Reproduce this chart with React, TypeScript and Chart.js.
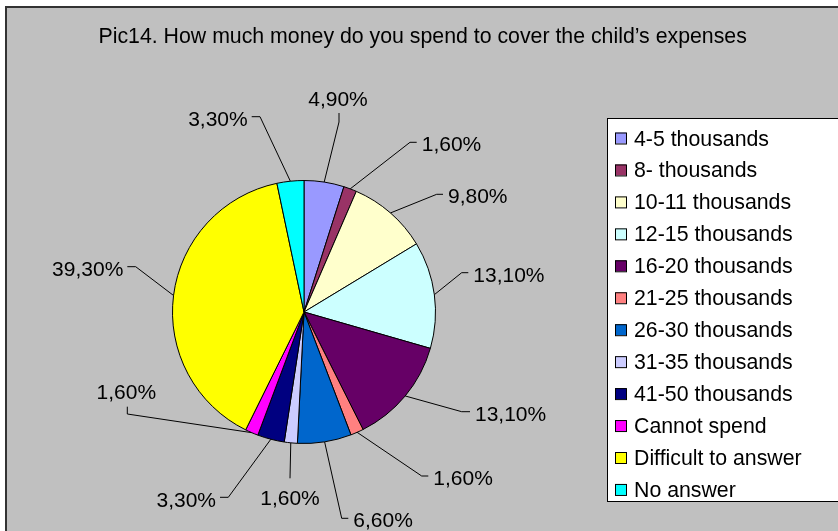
import React, { useEffect, useRef } from "react";
import { Chart, registerables } from "chart.js";

Chart.register(...registerables);

// ---- data ----
const titleText = "Pic14. How much money do you spend to cover the child\u2019s expenses";
const categories = [
  "4-5 thousands",
  "8- thousands",
  "10-11 thousands",
  "12-15 thousands",
  "16-20 thousands",
  "21-25 thousands",
  "26-30 thousands",
  "31-35 thousands",
  "41-50 thousands",
  "Cannot spend",
  "Difficult to answer",
  "No answer",
];
const shares = [4.9, 1.6, 9.8, 13.1, 13.1, 1.6, 6.6, 1.6, 3.3, 1.6, 39.3, 3.3];
const sliceColors = [
  "#9999FF",
  "#993366",
  "#FFFFCC",
  "#CCFFFF",
  "#660066",
  "#FF8080",
  "#0066CC",
  "#CCCCFF",
  "#000080",
  "#FF00FF",
  "#FFFF00",
  "#00FFFF",
];

// ---- label placement hints (elbow offset from pie centre, tail, text side) ----
type Place = { ex: number; ey: number; tx: number; ty: number; mode: "left" | "right" | "above" | "below" };
const labelPlaces: Place[] = [
  { ex: 35, ey: -190, tx: 0, ty: -9, mode: "above" },
  { ex: 106, ey: -169.7, tx: 6.7, ty: 0, mode: "right" },
  { ex: 132.7, ey: -117.7, tx: 6.3, ty: 0, mode: "right" },
  { ex: 157.7, ey: -39.3, tx: 6.6, ty: 0, mode: "right" },
  { ex: 157.7, ey: 99.7, tx: 8.3, ty: 0, mode: "right" },
  { ex: 117.7, ey: 164, tx: 6.6, ty: 0, mode: "right" },
  { ex: 37.7, ey: 206.3, tx: 6.6, ty: 0, mode: "right" },
  { ex: -14, ey: 166.3, tx: 0, ty: 0, mode: "below" },
  { ex: -75.7, ey: 185.3, tx: -8.3, ty: 0, mode: "left" },
  { ex: -176.7, ey: 102, tx: 0, ty: -7.3, mode: "above" },
  { ex: -168.3, ey: -45.3, tx: -8.4, ty: 0, mode: "left" },
  { ex: -44, ey: -195.3, tx: -8.3, ty: 0, mode: "left" },
];

const FONT = '"Liberation Sans", Arial, sans-serif';
const fmt = (v: number) => v.toFixed(2).replace(".", ",") + "%";

const framePlugin = {
  id: "frame",
  beforeDraw(chart: any) {
    const ctx = chart.ctx;
    const W = chart.width;
    const H = chart.height;
    ctx.save();
    ctx.fillStyle = "#ffffff";
    ctx.fillRect(0, 0, W, H);
    ctx.fillStyle = "#c0c0c0";
    ctx.fillRect(5, 6, W - 5, H - 6);
    ctx.fillStyle = "#333333";
    ctx.fillRect(5, 6, 2, H - 6);
    ctx.fillRect(5, 6, W - 5, 2);
    // title
    ctx.fillStyle = "#000000";
    ctx.font = `21.3px ${FONT}`;
    ctx.textAlign = "left";
    ctx.textBaseline = "alphabetic";
    ctx.fillText(titleText, 98.5, 43.3);
    ctx.restore();
  },
};

const labelPlugin = {
  id: "pieLabels",
  afterDatasetsDraw(chart: any) {
    const ctx = chart.ctx;
    const meta = chart.getDatasetMeta(0);
    const values = chart.data.datasets[0].data as number[];
    ctx.save();
    ctx.strokeStyle = "#000000";
    ctx.lineWidth = 1;
    ctx.fillStyle = "#000000";
    ctx.font = `21px ${FONT}`;
    meta.data.forEach((arc: any, i: number) => {
      const p = labelPlaces[i];
      if (!p) return;
      const mid = (arc.startAngle + arc.endAngle) / 2;
      const r = arc.outerRadius;
      const ax = arc.x + Math.cos(mid) * r;
      const ay = arc.y + Math.sin(mid) * r;
      const bx = arc.x + p.ex;
      const by = arc.y + p.ey;
      const cx = bx + p.tx;
      const cy = by + p.ty;
      ctx.beginPath();
      ctx.moveTo(ax, ay);
      ctx.lineTo(bx, by);
      ctx.lineTo(cx, cy);
      ctx.stroke();
      const txt = fmt(values[i]);
      ctx.textBaseline = "alphabetic";
      if (p.mode === "right") {
        ctx.textAlign = "left";
        ctx.fillText(txt, cx + 5, cy + 9);
      } else if (p.mode === "left") {
        ctx.textAlign = "right";
        ctx.fillText(txt, cx - 4, cy + 9.5);
      } else if (p.mode === "above") {
        ctx.textAlign = "center";
        ctx.fillText(txt, cx - 1, cy - 7.5);
      } else {
        ctx.textAlign = "center";
        ctx.fillText(txt, cx, cy + 26.5);
      }
    });
    ctx.restore();
  },
};

const legendPlugin = {
  id: "boxLegend",
  afterDraw(chart: any) {
    const ctx = chart.ctx;
    const labels = chart.data.labels as string[];
    const colors = chart.data.datasets[0].backgroundColor as string[];
    ctx.save();
    ctx.fillStyle = "#ffffff";
    ctx.fillRect(607, 118, chart.width - 607 + 5, 384);
    ctx.strokeStyle = "#000000";
    ctx.lineWidth = 1;
    ctx.strokeRect(607.5, 118.5, chart.width - 607 + 5, 383);
    ctx.font = `21.3px ${FONT}`;
    ctx.textAlign = "left";
    ctx.textBaseline = "alphabetic";
    labels.forEach((lab, i) => {
      const yc = 138 + i * 31.95;
      ctx.fillStyle = colors[i];
      ctx.fillRect(615, yc - 5.5, 11, 11);
      ctx.strokeStyle = "#000000";
      ctx.strokeRect(615.5, yc - 5, 11, 11);
      ctx.fillStyle = "#000000";
      ctx.fillText(lab, 634, yc + 7.5);
    });
    ctx.restore();
  },
};

export default function App() {
  const ref = useRef<HTMLCanvasElement | null>(null);
  useEffect(() => {
    if (!ref.current) return;
    const chart = new Chart(ref.current, {
      type: "pie",
      data: {
        labels: categories,
        datasets: [
          {
            data: shares,
            backgroundColor: sliceColors,
            borderColor: "#000000",
            borderWidth: 1,
          },
        ],
      },
      options: {
        responsive: false,
        animation: false,
        layout: { padding: { left: 172, top: 180, right: 402, bottom: 87 } },
        plugins: {
          legend: { display: false },
          tooltip: { enabled: false },
          title: { display: false },
        },
      },
      plugins: [framePlugin, labelPlugin, legendPlugin],
    });
    return () => chart.destroy();
  }, []);
  return (
    <div style={{ position: "absolute", left: 0, top: 0, width: 838, height: 531 }}>
      <canvas ref={ref} width={838} height={531} style={{ display: "block", width: 838, height: 531 }} />
    </div>
  );
}
